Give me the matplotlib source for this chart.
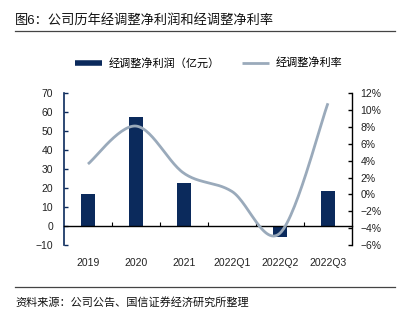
import numpy as np
import matplotlib
matplotlib.use('Agg')
import matplotlib.pyplot as plt
from matplotlib.lines import Line2D

plt.rcParams['font.family'] = ['Liberation Sans', 'Noto Sans CJK SC']
plt.rcParams['axes.unicode_minus'] = True

categories = ['2019', '2020', '2021', '2022Q1', '2022Q2', '2022Q3']
profit = [16.8, 57.4, 22.6, 0.0, -6.0, 18.6]          # 亿元
margin = [3.6, 8.1, 2.5, 0.35, -4.6, 10.8]            # %

bar_color = '#0b2a5c'
line_color = '#9aaabb'


def smooth(xs, ys, n=30):
    # Excel-like smoothed line: cubic Bezier with Catmull-Rom control points
    xs = np.asarray(xs, float)
    ys = np.asarray(ys, float)
    px, py = [], []
    m = len(xs)
    for i in range(m - 1):
        i0 = max(i - 1, 0)
        i3 = min(i + 2, m - 1)
        c1x = xs[i] + (xs[i + 1] - xs[i0]) / 6
        c1y = ys[i] + (ys[i + 1] - ys[i0]) / 6
        c2x = xs[i + 1] - (xs[i3] - xs[i]) / 6
        c2y = ys[i + 1] - (ys[i3] - ys[i]) / 6
        t = np.linspace(0, 1, n)
        bx = ((1 - t) ** 3 * xs[i] + 3 * (1 - t) ** 2 * t * c1x
              + 3 * (1 - t) * t ** 2 * c2x + t ** 3 * xs[i + 1])
        by = ((1 - t) ** 3 * ys[i] + 3 * (1 - t) ** 2 * t * c1y
              + 3 * (1 - t) * t ** 2 * c2y + t ** 3 * ys[i + 1])
        px.extend(bx)
        py.extend(by)
    return np.array(px), np.array(py)


fig = plt.figure(figsize=(4.05, 3.28), dpi=100)
ax = fig.add_axes([0.158, 0.253, 0.711, 0.463])
x = np.arange(len(categories))

ax.bar(x, profit, width=0.3, color=bar_color, zorder=2)
ax.set_xlim(-0.5, 5.5)
ax.set_ylim(-10, 70)
ax.set_yticks(range(-10, 71, 10))
ax.set_yticklabels([str(v).replace('-', '\u2212') for v in range(-10, 71, 10)])

ax.spines['top'].set_visible(False)
ax.spines['right'].set_visible(False)
ax.spines['bottom'].set_position(('data', 0))
ax.spines['bottom'].set_color('black')
ax.spines['bottom'].set_linewidth(1.0)
ax.spines['left'].set_color(bar_color)
ax.spines['left'].set_linewidth(1.2)

ax.set_xticks(x)
ax.set_xticklabels(categories)
ax.set_xticks(np.arange(0.5, 5, 1), minor=True)
ax.tick_params(axis='x', which='major', length=0, pad=23, labelsize=7.5,
               colors='#222222')
ax.tick_params(axis='x', which='minor', direction='in', length=3, width=0.8)
ax.tick_params(axis='y', direction='in', length=3, width=1.0, color=bar_color,
               labelsize=7.5, labelcolor='#222222', pad=8)

ax2 = ax.twinx()
sx, sy = smooth(x, margin)
ax2.plot(sx, sy, color=line_color, lw=2, zorder=3, solid_capstyle='butt')
ax2.set_ylim(-6, 12)
ax2.set_yticks(range(-6, 13, 2))
ax2.set_yticklabels([(f'{v}%').replace('-', '\u2212') for v in range(-6, 13, 2)])
for s in ['top', 'left', 'bottom']:
    ax2.spines[s].set_visible(False)
ax2.spines['right'].set_color('black')
ax2.spines['right'].set_linewidth(1.0)
ax2.tick_params(axis='y', direction='in', length=3, width=1.0,
                labelsize=7.5, labelcolor='#222222', pad=6)

# title and rules
fig.text(15 / 405, 1 - 20 / 328, '图6：公司历年经调整净利润和经调整净利率',
         fontsize=9.5, va='center', ha='left', color='#111111')
fig.add_artist(Line2D([15 / 405, 395 / 405], [1 - 31 / 328, 1 - 31 / 328],
                      color='#444444', lw=0.9))
fig.add_artist(Line2D([15 / 405, 395 / 405], [1 - 287 / 328, 1 - 287 / 328],
                      color='#444444', lw=0.9))
fig.text(15 / 405, 1 - 302 / 328, '资料来源：公司公告、国信证券经济研究所整理',
         fontsize=8, va='center', ha='left', color='#111111')

handles = [Line2D([], [], color=bar_color, lw=4, solid_capstyle='butt'),
           Line2D([], [], color=line_color, lw=2, solid_capstyle='butt')]
fig.legend(handles, ['经调整净利润（亿元）', '经调整净利率'],
           loc='center', bbox_to_anchor=(0.515, 1 - 63 / 328), ncol=2,
           frameon=False, fontsize=8, handlelength=2.4,
           columnspacing=2.0, handletextpad=0.6)

fig.savefig('out.png', dpi=100)
